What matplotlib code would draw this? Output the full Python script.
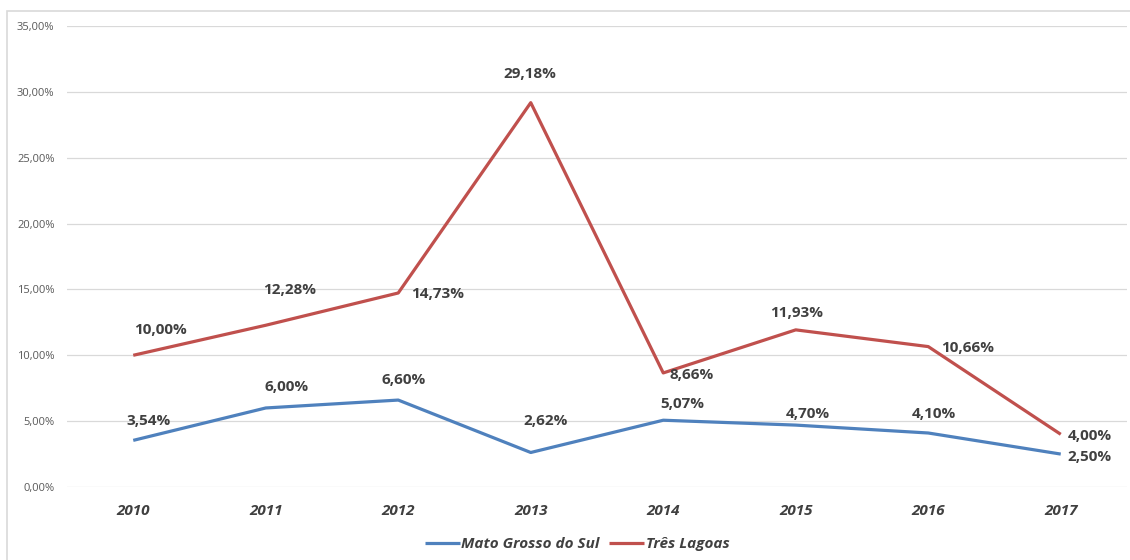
import matplotlib
matplotlib.use("Agg")
import matplotlib.pyplot as plt
from matplotlib.patches import Rectangle

years = ["2010", "2011", "2012", "2013", "2014", "2015", "2016", "2017"]
mato_grosso = [3.54, 6.00, 6.60, 2.62, 5.07, 4.70, 4.10, 2.50]
tres_lagoas = [10.00, 12.28, 14.73, 29.18, 8.66, 11.93, 10.66, 4.00]
series_names = ["Mato Grosso do Sul", "Três Lagoas"]

# label offsets (pixels) for placement
off_mg = [(15, 19), (21, 21), (5, 20), (15, 31), (19, 16), (12, 11), (6, 19), (29, -3)]
off_tl = [(27, 25), (24, 35), (39, -1), (-1, 29), (28, -2), (1, 17), (39, -1), (29, -2)]

plt.rcParams['font.family'] = ['Open Sans', 'DejaVu Sans']

fig = plt.figure(figsize=(11.3, 5.6), dpi=100)
fig.patches.append(Rectangle((7/1130, -0.01), 1.2, 1 - 11/560 + 0.01, transform=fig.transFigure,
                             fill=False, edgecolor='#d9d9d9', linewidth=1.2))
ax = fig.add_axes([67/1130, 1 - 487/560, 1060/1130, 461/560])

x = list(range(len(years)))
blue = '#4F81BD'
red = '#C0504D'
l1, = ax.plot(x, mato_grosso, color=blue, lw=2.3, solid_capstyle='butt', label=series_names[0])
l2, = ax.plot(x, tres_lagoas, color=red, lw=2.3, solid_capstyle='butt', label=series_names[1])

def fmt(v):
    return f"{v:.2f}".replace('.', ',') + "%"

for xi, v, o in zip(x, mato_grosso, off_mg):
    ax.annotate(fmt(v), (xi, v), xytext=o, textcoords='offset pixels', ha='center', va='center',
                fontsize=11, fontweight='bold', color='#404040')
for xi, v, o in zip(x, tres_lagoas, off_tl):
    ax.annotate(fmt(v), (xi, v), xytext=o, textcoords='offset pixels', ha='center', va='center',
                fontsize=11, fontweight='bold', color='#404040')

ax.set_xlim(-0.5, len(years) - 0.5)
ax.set_ylim(0, 35)
ax.set_yticks([0, 5, 10, 15, 20, 25, 30, 35])
ax.set_yticklabels([f"{t},00%" for t in [0, 5, 10, 15, 20, 25, 30, 35]], fontsize=8, color='#595959')
ax.set_xticks(x)
ax.set_xticklabels(years, fontsize=11, fontweight='bold', fontstyle='italic', color='#404040')
ax.tick_params(axis='both', length=0)
ax.tick_params(axis='x', pad=12)
ax.tick_params(axis='y', pad=9)
ax.grid(axis='y', color='#d9d9d9', lw=0.9)
ax.set_axisbelow(True)
for s in ax.spines.values():
    s.set_visible(False)

leg = fig.legend(handles=[l1, l2], loc='center', bbox_to_anchor=(577/1130, 1 - 544/560), ncol=2,
                 frameon=False, handlelength=2.3, handletextpad=0.1, columnspacing=0.6,
                 prop={'size': 11, 'weight': 'bold', 'style': 'italic'})
for t in leg.get_texts():
    t.set_color('#404040')

fig.savefig('out.png', dpi=100)
